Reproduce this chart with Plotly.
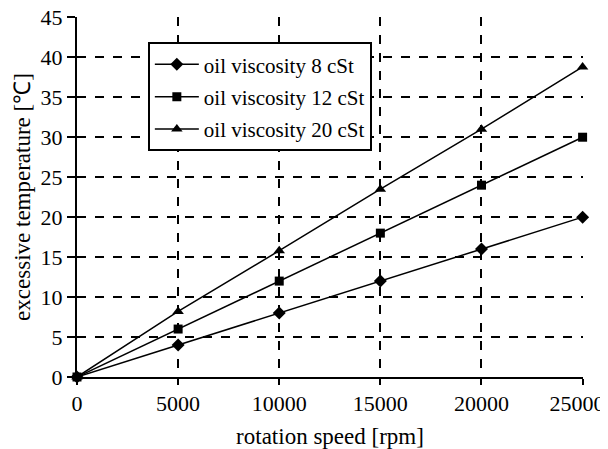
import plotly.graph_objects as go

speed = [0, 5000, 10000, 15000, 20000, 25000]
# trailing no-break spaces nudge the last label left so it stays on the page
speed_labels = ["0", "5000", "10000", "15000", "20000", "25000\u00a0\u00a0"]
temp_ticks = [0, 5, 10, 15, 20, 25, 30, 35, 40, 45]
temp_8cst = [0, 4, 8, 12, 16, 20]
temp_12cst = [0, 6, 12, 18, 24, 30]
temp_20cst = [0, 8.2, 15.8, 23.5, 31, 38.8]

series = [
    ("oil viscosity 8 cSt", temp_8cst, "diamond", 10),
    ("oil viscosity 12 cSt", temp_12cst, "square", 9),
    ("oil viscosity 20 cSt", temp_20cst, "triangle-up", 10),
]

SERIF = "Liberation Serif, Times New Roman, serif"
tick_font = dict(family=SERIF, size=22, color="black")
title_font = dict(family=SERIF, size=23, color="black")

fig = go.Figure()
for i, (name, vals, sym, size) in enumerate(series):
    fig.add_trace(go.Scatter(
        x=speed, y=vals, mode="lines+markers", name=name,
        legendgroup=f"g{i}",
        line=dict(color="black", width=1.5),
        marker=dict(symbol=sym, size=size, color="black"),
        cliponaxis=False,
    ))

# page body has an 8px margin, so the figure is sized 600x441
fig.update_layout(
    width=600, height=441,
    margin=dict(l=69, r=25, t=9, b=72),
    paper_bgcolor="white", plot_bgcolor="white",
    font=dict(family=SERIF, size=22, color="black"),
    showlegend=True,
    legend=dict(
        x=0.14, y=0.93, xanchor="left", yanchor="top",
        bgcolor="white", bordercolor="black", borderwidth=2,
        font=dict(family=SERIF, size=21, color="black"),
        tracegroupgap=2, itemwidth=44,
    ),
)
fig.update_xaxes(
    range=[0, 25020], tickvals=speed, ticktext=speed_labels,
    tickfont=tick_font, ticklabeloverflow="allow", automargin=False,
    showgrid=True, gridcolor="black", griddash="dash", gridwidth=2,
    showline=True, linecolor="black", linewidth=2,
    ticks="outside", ticklen=6, tickwidth=2, tickcolor="black",
    zeroline=False,
    title=dict(text="rotation speed [rpm]", standoff=13, font=title_font),
)
fig.update_yaxes(
    range=[0, 45.04], tickvals=temp_ticks,
    tickfont=tick_font, ticklabeloverflow="allow", automargin=False,
    showgrid=True, gridcolor="black", griddash="dash", gridwidth=2,
    showline=True, linecolor="black", linewidth=2,
    ticks="outside", ticklen=8, tickwidth=2, tickcolor="black",
    zeroline=False,
    title=dict(text="excessive temperature [℃]", standoff=4, font=title_font),
)

fig.write_html("out.html")
